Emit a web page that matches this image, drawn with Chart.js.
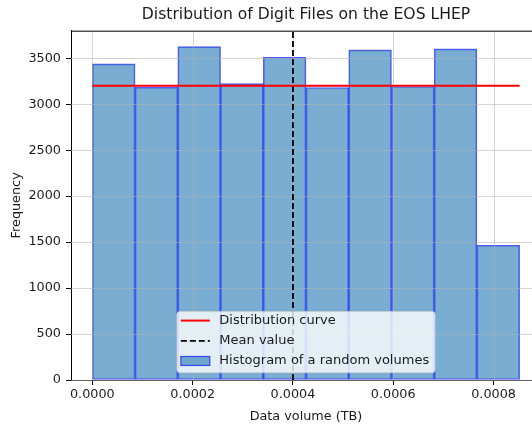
<!DOCTYPE html>
<html>
<head>
<meta charset="utf-8">
<script src="https://cdn.jsdelivr.net/npm/chart.js@4/dist/chart.umd.min.js"></script>
<style>
  html, body { margin: 0; padding: 0; background: #fff; overflow: hidden; }
  #wrap { width: 541px; height: 424px; }
</style>
</head>
<body>
<div id="wrap"><canvas id="c" width="541" height="424"></canvas></div>
<script>
// Histogram bin edges (TB) and counts per bin
const binEdges = [0, 0.0000852, 0.0001704, 0.0002556, 0.0003408, 0.000426,
                  0.0005112, 0.0005964, 0.0006816, 0.0007668, 0.000852];
const binCounts = [3439, 3185, 3627, 3225, 3511, 3182, 3591, 3193, 3602, 1466];

// Flat distribution curve and mean marker
const curveX = [0, 0.000852];
const curveY = [3200, 3200];
const meanValue = 0.0004;

// Axis ticks and limits
const xTicks = [0, 0.0002, 0.0004, 0.0006, 0.0008];
const yTicks = [0, 500, 1000, 1500, 2000, 2500, 3000, 3500];
const xLimits = [-0.0000426, 0.0008946];
const yLimits = [0, 3800];

const chartTitle = 'Distribution of Digit Files on the EOS LHEP';
const legendLabels = ['Distribution curve', 'Mean value', 'Histogram of a random volumes'];

const FONT = "'DejaVu Sans', 'Liberation Sans', sans-serif";
const TEXT = '#1a1a1a';
const BAR_FILL = 'rgba(31,119,180,0.6)';
const BAR_EDGE = 'rgba(0,0,255,0.65)';
const GRID = 'rgba(176,176,176,0.55)';

const histData = binCounts.map((c, i) => ({ x: (binEdges[i] + binEdges[i + 1]) / 2, y: c }));
const curveData = curveX.map((x, i) => ({ x: x, y: curveY[i] }));
const meanData = [{ x: meanValue, y: yLimits[0] }, { x: meanValue, y: yLimits[1] }];

// Title centred over the plot area
const titlePlugin = {
  id: 'axesTitle',
  afterDraw(chart) {
    const { ctx, chartArea: a } = chart;
    ctx.save();
    ctx.font = '15.6px ' + FONT;
    ctx.fillStyle = TEXT;
    ctx.textAlign = 'center';
    ctx.textBaseline = 'middle';
    ctx.fillText(chartTitle, (a.left + a.right) / 2, a.top / 2);
    ctx.restore();
  }
};

// Grid lines drawn over the histogram bars, below the lines
const gridPlugin = {
  id: 'gridOverBars',
  afterDatasetDraw(chart, args) {
    if (args.meta.type !== 'bar') return;
    const { ctx, chartArea: a, scales } = chart;
    ctx.save();
    ctx.strokeStyle = GRID;
    ctx.lineWidth = 1;
    ctx.beginPath();
    scales.x.ticks.forEach(t => {
      const px = Math.round(scales.x.getPixelForValue(t.value)) + 0.5;
      ctx.moveTo(px, a.top); ctx.lineTo(px, a.bottom);
    });
    scales.y.ticks.forEach(t => {
      const py = Math.round(scales.y.getPixelForValue(t.value)) + 0.5;
      ctx.moveTo(a.left, py); ctx.lineTo(a.right, py);
    });
    ctx.stroke();
    ctx.restore();
  }
};

// Black frame around the plot area (top and right spines)
const framePlugin = {
  id: 'frame',
  afterDatasetsDraw(chart) {
    const { ctx, chartArea: a } = chart;
    ctx.save();
    ctx.strokeStyle = '#000';
    ctx.lineWidth = 1;
    ctx.beginPath();
    ctx.moveTo(a.left, a.top + 0.5);
    ctx.lineTo(a.right, a.top + 0.5);
    ctx.moveTo(a.right - 0.5, a.top);
    ctx.lineTo(a.right - 0.5, a.bottom);
    ctx.stroke();
    ctx.restore();
  }
};

// Legend box placed at the lower centre of the plot area
const legendPlugin = {
  id: 'innerLegend',
  afterDraw(chart) {
    const { ctx, chartArea: a } = chart;
    ctx.save();
    ctx.font = '13px ' + FONT;
    const textW = Math.max(...legendLabels.map(t => ctx.measureText(t).width));
    const padL = 4, handleW = 29, gap = 9.5, padR = 6;
    const rowH = 20.2, firstRow = 9, lastPad = 11.7;
    const w = padL + handleW + gap + textW + padR;
    const h = firstRow + rowH * (legendLabels.length - 1) + lastPad;
    const x = (a.left + a.right) / 2 - w / 2;
    const y = a.bottom - 7.3 - h;

    ctx.beginPath();
    if (ctx.roundRect) ctx.roundRect(x, y, w, h, 3); else ctx.rect(x, y, w, h);
    ctx.fillStyle = 'rgba(255,255,255,0.8)';
    ctx.fill();
    ctx.strokeStyle = 'rgba(204,204,204,0.8)';
    ctx.lineWidth = 1;
    ctx.stroke();

    const hx = x + padL;
    const tx = hx + handleW + gap;
    legendLabels.forEach((label, i) => {
      const cy = y + firstRow + rowH * i;
      ctx.save();
      if (i === 0) {
        ctx.strokeStyle = '#ff0000';
        ctx.lineWidth = 2;
        ctx.beginPath(); ctx.moveTo(hx, cy); ctx.lineTo(hx + handleW, cy); ctx.stroke();
      } else if (i === 1) {
        ctx.strokeStyle = '#000';
        ctx.lineWidth = 1.8;
        ctx.setLineDash([6, 3]);
        ctx.beginPath(); ctx.moveTo(hx, cy); ctx.lineTo(hx + handleW, cy); ctx.stroke();
      } else {
        ctx.fillStyle = BAR_FILL;
        ctx.fillRect(hx, cy - 4.5, handleW, 9);
        ctx.strokeStyle = BAR_EDGE;
        ctx.lineWidth = 1.2;
        ctx.strokeRect(hx, cy - 4.5, handleW, 9);
      }
      ctx.restore();
      ctx.fillStyle = TEXT;
      ctx.textBaseline = 'middle';
      ctx.textAlign = 'left';
      ctx.fillText(label, tx, cy);
    });
    ctx.restore();
  }
};

new Chart(document.getElementById('c'), {
  type: 'bar',
  data: {
    datasets: [
      {
        type: 'line',
        label: legendLabels[0],
        data: curveData,
        borderColor: '#ff0000',
        borderWidth: 2,
        pointRadius: 0,
        fill: false,
        order: 0
      },
      {
        type: 'line',
        label: legendLabels[1],
        data: meanData,
        borderColor: '#000000',
        borderWidth: 1.8,
        borderDash: [6, 3],
        pointRadius: 0,
        fill: false,
        order: 0
      },
      {
        type: 'bar',
        label: legendLabels[2],
        data: histData,
        backgroundColor: BAR_FILL,
        borderColor: BAR_EDGE,
        borderWidth: 1,
        borderSkipped: false,
        barPercentage: 1,
        categoryPercentage: 1,
        order: 1
      }
    ]
  },
  options: {
    responsive: false,
    animation: false,
    devicePixelRatio: 1,
    layout: { padding: { top: 30.7, left: 0, right: 0, bottom: 0 } },
    plugins: {
      legend: { display: false },
      tooltip: { enabled: false },
      title: { display: false }
    },
    scales: {
      x: {
        type: 'linear',
        min: xLimits[0],
        max: xLimits[1],
        offset: false,
        afterBuildTicks(scale) { scale.ticks = xTicks.map(v => ({ value: v })); },
        afterFit(scale) { scale.height = 44; },
        ticks: {
          color: TEXT,
          font: { family: FONT, size: 12.8 },
          padding: 2,
          maxRotation: 0,
          autoSkip: false,
          callback: v => Number(v).toFixed(4)
        },
        grid: { drawOnChartArea: false, tickLength: 5, tickColor: '#000', offset: false },
        border: { color: '#000', width: 1 },
        title: {
          display: true,
          text: 'Data volume (TB)',
          color: TEXT,
          font: { family: FONT, size: 12.8, lineHeight: 1.2 },
          padding: { top: 0, bottom: 0 }
        }
      },
      y: {
        type: 'linear',
        min: yLimits[0],
        max: yLimits[1],
        afterBuildTicks(scale) { scale.ticks = yTicks.map(v => ({ value: v })); },
        afterFit(scale) { scale.width = 71; },
        ticks: {
          color: TEXT,
          font: { family: FONT, size: 12.8 },
          padding: 5,
          autoSkip: false,
          callback: v => String(v)
        },
        grid: { drawOnChartArea: false, tickLength: 5, tickColor: '#000' },
        border: { color: '#000', width: 1 },
        title: {
          display: true,
          text: 'Frequency',
          color: TEXT,
          font: { family: FONT, size: 12.8, lineHeight: 1.2 },
          padding: { top: 9, bottom: 0 }
        }
      }
    }
  },
  plugins: [gridPlugin, framePlugin, titlePlugin, legendPlugin]
});
</script>
</body>
</html>
